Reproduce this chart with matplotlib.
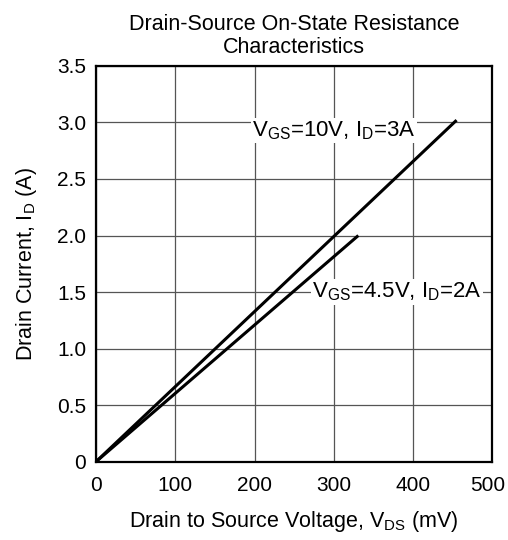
import matplotlib.pyplot as plt
from matplotlib.transforms import ScaledTranslation

plt.rcParams['font.family'] = ['Liberation Sans', 'DejaVu Sans']
plt.rcParams['mathtext.fontset'] = 'custom'
plt.rcParams['mathtext.rm'] = 'Liberation Sans'

# curves: (V_DS in mV, I_D in A)
vds_10v = [0, 455]
id_10v = [0, 3.02]
vds_45v = [0, 331]
id_45v = [0, 2.0]

x_ticks = [0, 100, 200, 300, 400, 500]
y_ticks = [0, 0.5, 1.0, 1.5, 2.0, 2.5, 3.0, 3.5]
y_tick_labels = ['0', '0.5', '1.0', '1.5', '2.0', '2.5', '3.0', '3.5']

fig = plt.figure(figsize=(5.08, 5.4), dpi=100)
ax = fig.add_axes([0.189, 0.145, 0.78, 0.733])

ax.plot(vds_10v, id_10v, color='black', lw=2.2, solid_capstyle='butt', zorder=3)
ax.plot(vds_45v, id_45v, color='black', lw=2.2, solid_capstyle='butt', zorder=3)

ax.set_xlim(0, 500)
ax.set_ylim(0, 3.5)
ax.set_xticks(x_ticks)
ax.set_yticks(y_ticks)
ax.set_yticklabels(y_tick_labels)
ax.tick_params(length=0, labelsize=15)
ax.tick_params(axis='x', pad=10.5)
ax.tick_params(axis='y', pad=7)
ax.grid(True, color='#555555', lw=0.9)
ax.set_axisbelow(True)
for s in ax.spines.values():
    s.set_linewidth(1.6)

# last x label sits a little left so it fits in the figure
last = ax.get_xticklabels()[-1]
last.set_transform(last.get_transform() + ScaledTranslation(-5 / 100, 0, fig.dpi_scale_trans))

box = dict(facecolor='white', edgecolor='none', pad=1)
ax.text(197, 2.93, r'V$_{\mathregular{GS}}$=10V, I$_{\mathregular{D}}$=3A',
        fontsize=16, va='center', ha='left', bbox=box, zorder=4)
ax.text(273, 1.5, r'V$_{\mathregular{GS}}$=4.5V, I$_{\mathregular{D}}$=2A',
        fontsize=16, va='center', ha='left', bbox=box, zorder=4)

ax.set_title('Drain-Source On-State Resistance\nCharacteristics',
             fontsize=15.5, pad=9, linespacing=1.15)
ax.set_xlabel(r'Drain to Source Voltage, V$_{\mathregular{DS}}$ (mV)',
              fontsize=15.5, labelpad=10)
ax.set_ylabel(r'Drain Current, I$_{\mathregular{D}}$ (A)',
              fontsize=15.5, labelpad=13)

fig.savefig('out.png', dpi=100)
